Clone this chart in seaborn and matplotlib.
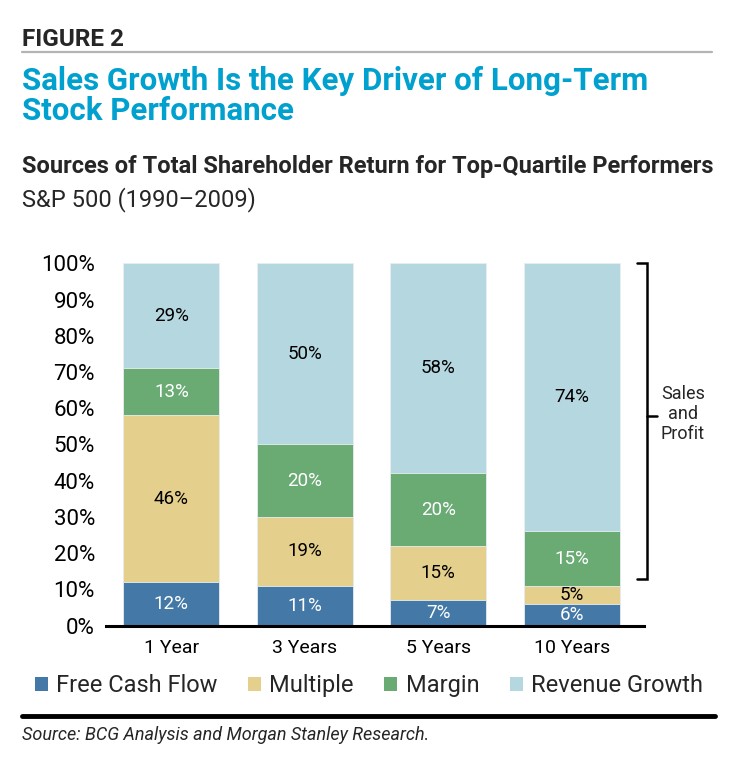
import numpy as np
import pandas as pd
import matplotlib.pyplot as plt
import seaborn as sns
from matplotlib.patches import Patch
from matplotlib.lines import Line2D

# Data (share of total shareholder return, %)
periods = ["1 Year", "3 Years", "5 Years", "10 Years"]
free_cash_flow = [12, 11, 7, 6]
multiple = [46, 19, 15, 5]
margin = [13, 20, 20, 15]
revenue_growth = [29, 50, 58, 74]

series_names = ["Free Cash Flow", "Multiple", "Margin", "Revenue Growth"]
series_colors = ["#4479a7", "#e4cf8c", "#6aab74", "#b5d7e0"]
label_colors = ["white", "black", "white", "black"]

sns.set_theme(style="white")
plt.rcParams["font.family"] = ["Liberation Sans Narrow", "Roboto", "DejaVu Sans"]

df = pd.DataFrame({
    "Period": periods,
    "Free Cash Flow": free_cash_flow,
    "Multiple": multiple,
    "Margin": margin,
    "Revenue Growth": revenue_growth,
})

fig = plt.figure(figsize=(7.35, 7.63), dpi=100)
ax = fig.add_axes([0.1442, 0.1802, 0.876 - 0.1442, 0.6549 - 0.1802])

# stacked bars: draw cumulative totals from the top down
cum = df[series_names].cumsum(axis=1)
for name, color in reversed(list(zip(series_names, series_colors))):
    sns.barplot(x=df["Period"], y=cum[name], color=color, saturation=1,
                width=0.72, edgecolor="#e8eef2", linewidth=0.6, ax=ax)

# segment labels
for i in range(len(periods)):
    base = 0
    for name, lc in zip(series_names, label_colors):
        v = df[name].iloc[i]
        ax.text(i, base + v / 2, f"{v}%", ha="center", va="center",
                fontsize=13.5, color=lc)
        base += v

ax.set_xlim(-0.49, 3.54)
ax.set_ylim(0, 100)
ax.set_yticks(range(0, 101, 10))
ax.set_yticklabels([f"{t}%" for t in range(0, 101, 10)], fontsize=16)
ax.tick_params(axis="y", length=0, pad=8, colors="black")
ax.tick_params(axis="x", length=0, pad=10, labelsize=14, colors="black")
ax.set_xlabel("")
ax.set_ylabel("")
for s in ["left", "right", "top"]:
    ax.spines[s].set_visible(False)
ax.spines["bottom"].set_color("black")
ax.spines["bottom"].set_linewidth(2.2)

# "Sales and Profit" bracket
bx, bl, br = 3.563, 3.488, 3.638
ax.plot([bl, bx, bx, bl], [12.8, 12.8, 100, 100], color="black", lw=1.8,
        clip_on=False, solid_joinstyle="miter")
ax.plot([bx, br], [57.8, 57.8], color="black", lw=1.8, clip_on=False)
ax.text(3.833, 58.3, "Sales\nand\nProfit", ha="center", va="center",
        fontsize=13, linespacing=1.15, clip_on=False)

# header texts
fig.text(0.030, 0.9397, "FIGURE 2", fontsize=17.5, fontweight="bold", va="baseline")
fig.add_artist(Line2D([0.030, 0.969], [0.9312, 0.9312], color="#b4b4b4", lw=1.6))
fig.text(0.030, 0.8425, "Sales Growth Is the Key Driver of Long-Term\nStock Performance",
         fontsize=22.5, fontweight="bold", color="#00a0cf", va="baseline", linespacing=1.0)
fig.text(0.030, 0.7733, "Sources of Total Shareholder Return for Top-Quartile Performers",
         fontsize=17, fontweight="bold", va="baseline")
fig.text(0.030, 0.7300, "S&P 500 (1990\u20132009)", fontsize=17, va="baseline")

# legend
handles = [Patch(facecolor=c, edgecolor="none", label=n)
           for n, c in zip(series_names, series_colors)]
fig.legend(handles=handles, loc="center", bbox_to_anchor=(0.502, 0.101), ncol=4,
           frameon=False, fontsize=17, handlelength=0.55, handleheight=0.55,
           handletextpad=0.35, columnspacing=1.3, borderaxespad=0)

# footer
fig.add_artist(Line2D([0.030, 0.973], [0.0616, 0.0616], color="black", lw=3.5))
fig.text(0.030, 0.0301, "Source: BCG Analysis and Morgan Stanley Research.",
         fontsize=13, style="italic", va="baseline")

plt.savefig("out.png", dpi=100)
